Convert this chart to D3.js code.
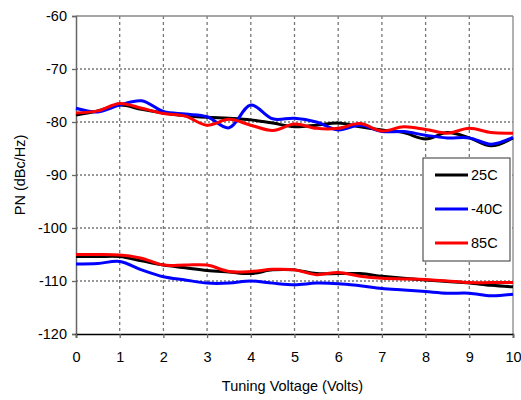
<!DOCTYPE html>
<head>
  <meta charset="utf-8">
  <script src="https://d3js.org/d3.v7.min.js"></script>
  <style>
    body { margin:0; background:#fff; }
    text { font-family: "Liberation Sans", Arial, sans-serif; font-size: 14.5px; fill: #000; }
  </style>
</head>

<body>
  <script>
    var W = 521, H = 400;
    var margin = { top: 16, right: 8, bottom: 66, left: 76 };
    var width = W - margin.left - margin.right;
    var height = H - margin.top - margin.bottom;

    // tuning voltage samples (Volts)
    var volts = [0, 0.5, 1, 1.5, 2, 2.5, 3, 3.5, 4, 4.5, 5, 5.5, 6, 6.5, 7, 7.5, 8, 8.5, 9, 9.5, 10];

    // upper trace set (dBc/Hz)
    var up25 = [-78.7, -77.9, -76.8, -77.6, -78.3, -78.8, -79.1, -79.3, -79.6, -80.2, -80.9, -80.6, -80.2, -80.9, -81.5, -82.0, -83.2, -82.0, -83.0, -84.5, -83.0];
    var upM40 = [-77.4, -78.1, -76.8, -76.0, -78.0, -78.5, -79.0, -81.1, -76.8, -79.4, -79.3, -80.0, -81.5, -80.6, -81.8, -81.8, -82.5, -83.0, -83.0, -84.2, -82.9];
    var up85 = [-78.3, -77.9, -76.5, -77.4, -78.4, -78.9, -80.6, -79.5, -80.6, -81.6, -80.4, -81.2, -81.2, -80.3, -81.7, -80.9, -81.4, -82.1, -81.2, -82.0, -82.1];

    // lower trace set (dBc/Hz)
    var lo25 = [-105.4, -105.4, -105.4, -106.2, -107.0, -107.5, -108.0, -108.3, -108.6, -107.9, -107.9, -108.6, -108.6, -108.6, -109.1, -109.5, -109.8, -110.1, -110.4, -110.8, -111.1];
    var loM40 = [-106.8, -106.7, -106.3, -107.9, -109.2, -109.8, -110.4, -110.4, -110.0, -110.4, -110.7, -110.4, -110.5, -110.9, -111.4, -111.7, -112.0, -112.3, -112.3, -112.8, -112.5];
    var lo85 = [-105.0, -105.0, -105.1, -105.7, -107.0, -107.0, -107.0, -108.2, -108.2, -107.8, -107.9, -108.8, -108.4, -109.1, -109.5, -109.6, -109.7, -110.0, -110.3, -110.3, -110.3];

    var xTicks = [0, 1, 2, 3, 4, 5, 6, 7, 8, 9, 10];
    var yTicks = [-60, -70, -80, -90, -100, -110, -120];

    var series = [
      { name: "25C", color: "#000000", sets: [up25, lo25] },
      { name: "-40C", color: "#0000ff", sets: [upM40, loM40] },
      { name: "85C", color: "#ff0000", sets: [up85, lo85] }
    ];

    var svg = d3.select("body").append("svg")
      .attr("width", W)
      .attr("height", H);
    var g = svg.append("g")
      .attr("transform", "translate(" + margin.left + "," + margin.top + ")");

    var x = d3.scaleLinear().domain([0, 10]).range([0, width]);
    var y = d3.scaleLinear().domain([-120, -60]).range([height, 0]);

    // grid
    g.selectAll(".vgrid").data(xTicks.slice(1, -1)).enter().append("line")
      .attr("x1", function(d) { return x(d); }).attr("x2", function(d) { return x(d); })
      .attr("y1", 0).attr("y2", height)
      .attr("stroke", "#777").attr("stroke-width", 1.3).attr("stroke-dasharray", "3,3");
    g.selectAll(".hgrid").data(yTicks.slice(1, -1)).enter().append("line")
      .attr("x1", 0).attr("x2", width)
      .attr("y1", function(d) { return y(d); }).attr("y2", function(d) { return y(d); })
      .attr("stroke", "#333").attr("stroke-width", 1).attr("stroke-dasharray", "2,2");

    // frame top/right
    g.append("line").attr("x1", 0).attr("x2", width).attr("y1", 0).attr("y2", 0)
      .attr("stroke", "#888").attr("stroke-width", 1.3);
    g.append("line").attr("x1", width).attr("x2", width).attr("y1", 0).attr("y2", height)
      .attr("stroke", "#888").attr("stroke-width", 1.3);

    var fmt = function(d) { return String(d); };

    // axes
    var yAxis = g.append("g").call(d3.axisLeft(y).tickValues(yTicks).tickFormat(fmt).tickSize(4).tickPadding(5));
    yAxis.select(".domain").attr("stroke", "#666").attr("stroke-width", 1.5);
    yAxis.selectAll(".tick line").attr("stroke", "#666").attr("stroke-width", 1.3);
    yAxis.selectAll("text").attr("font-size", 14).attr("font-family", "Liberation Sans, Arial, sans-serif").attr("fill", "#000");

    var xAxis = g.append("g").attr("transform", "translate(0," + height + ")")
      .call(d3.axisBottom(x).tickValues(xTicks).tickFormat(fmt).tickSize(4).tickPadding(14));
    xAxis.select(".domain").attr("stroke", "#000").attr("stroke-width", 1.5);
    xAxis.selectAll(".tick line").attr("stroke", "#666").attr("stroke-width", 1.3);
    xAxis.selectAll("text").attr("font-size", 14).attr("font-family", "Liberation Sans, Arial, sans-serif").attr("fill", "#000");

    // curves
    var line = d3.line()
      .x(function(d, i) { return x(volts[i]); })
      .y(function(d) { return y(d); })
      .curve(d3.curveCatmullRom.alpha(0.5));

    series.forEach(function(s) {
      s.sets.forEach(function(vals) {
        g.append("path").datum(vals)
          .attr("d", line)
          .attr("fill", "none")
          .attr("stroke", s.color)
          .attr("stroke-width", 3)
          .attr("stroke-linejoin", "round");
      });
    });

    // legend
    var lg = svg.append("g").attr("transform", "translate(423,158)");
    lg.append("rect").attr("width", 87).attr("height", 103)
      .attr("fill", "#fff").attr("stroke", "#333").attr("stroke-width", 1);
    series.forEach(function(s, i) {
      var ly = 17 + i * 34;
      lg.append("line").attr("x1", 12).attr("x2", 45).attr("y1", ly).attr("y2", ly)
        .attr("stroke", s.color).attr("stroke-width", 3);
      lg.append("text").attr("x", 48).attr("y", ly + 5).attr("font-size", 14.5).text(s.name);
    });

    // axis titles
    svg.append("text")
      .attr("x", margin.left + width / 2 - 2).attr("y", 391)
      .attr("text-anchor", "middle")
      .text("Tuning Voltage (Volts)");
    svg.append("text")
      .attr("transform", "translate(25," + (margin.top + height / 2) + ") rotate(-90)")
      .attr("text-anchor", "middle")
      .text("PN (dBc/Hz)");
  </script>
</body>
